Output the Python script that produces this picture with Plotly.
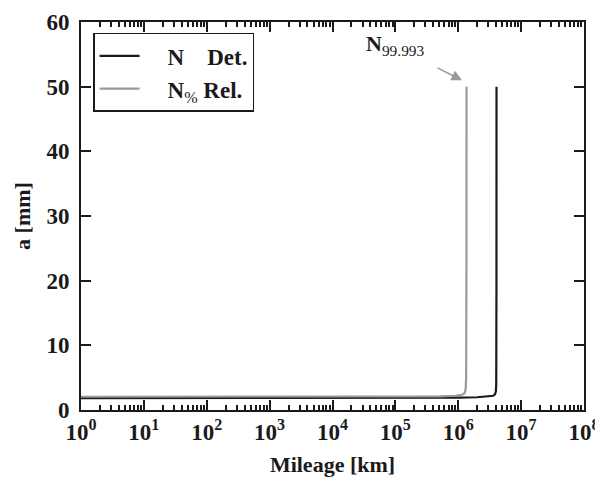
import plotly.graph_objects as go

# Deterministic curve (N Det.)
det_N = [1, 1e2, 1e4, 1e5, 1e6, 2e6, 3e6, 3.6e6, 3.85e6, 3.97e6, 4.02e6, 4.045e6, 4.055e6, 4.06e6]
det_a = [1.85, 1.85, 1.86, 1.87, 1.92, 1.97, 2.05, 2.2, 2.45, 2.9, 4.0, 8.0, 20.0, 50.0]

# Reliability curve (N% Rel.)
rel_N = [1, 1e2, 1e4, 1e5, 5e5, 9e5, 1.15e6, 1.26e6, 1.31e6, 1.335e6, 1.348e6, 1.353e6, 1.355e6]
rel_a = [2.05, 2.05, 2.06, 2.08, 2.12, 2.2, 2.35, 2.6, 3.2, 5.0, 10.0, 25.0, 50.0]

x_tickvals = [1e0, 1e1, 1e2, 1e3, 1e4, 1e5, 1e6, 1e7, 1e8]
x_ticktext = ["10<sup>%d</sup>" % i for i in range(9)]
x_minorvals = [m * 10 ** d for d in range(8) for m in range(2, 10)]
y_tickvals = [0, 10, 20, 30, 40, 50, 60]

font_family = "Liberation Serif"
ink = "#1a1a1a"
x_range = [-0.0001, 8.0001]

fig = go.Figure()
fig.add_trace(go.Scatter(x=det_N, y=det_a, mode="lines",
                         line=dict(color=ink, width=2.2),
                         name="    <b>N    Det.</b>"))
fig.add_trace(go.Scatter(x=rel_N, y=rel_a, mode="lines",
                         line=dict(color="#9a9a9a", width=2.2),
                         name="    <b>N</b><sub>%</sub> <b>Rel.</b>"))
# invisible copy on the overlaid axis that carries the minor ticks
fig.add_trace(go.Scatter(x=det_N, y=det_a, xaxis="x2", yaxis="y",
                         mode="lines", line=dict(width=0, color="rgba(0,0,0,0)"),
                         showlegend=False, hoverinfo="skip"))

fig.add_annotation(x=6.06, y=51, xref="x", yref="y",
                   ax=-26, ay=-13, text="", showarrow=True, arrowhead=2,
                   arrowsize=1.4, arrowwidth=1.5, arrowcolor="#999999")
fig.add_annotation(x=5.0, y=56.4, xref="x", yref="y", showarrow=False,
                   text="<b>N</b><sub>99.993</sub>",
                   font=dict(family=font_family, size=22, color=ink))

axis_common = dict(showline=True, linecolor=ink, linewidth=2,
                   mirror="ticks", ticks="inside", tickcolor=ink,
                   ticklen=10, tickwidth=2, showgrid=False, zeroline=False,
                   automargin=False,
                   tickfont=dict(family=font_family, size=23, color=ink))

xaxis_cfg = dict(type="log", range=x_range, tickmode="array",
                 tickvals=x_tickvals,
                 ticktext=["<b>%s</b>" % t for t in x_ticktext],
                 ticklabeloverflow="allow",
                 title=dict(text="<b>Mileage [km]</b>", standoff=13,
                            font=dict(family=font_family, size=22, color=ink)),
                 **axis_common)
yaxis_cfg = dict(range=[0, 60], tickmode="array", tickvals=y_tickvals,
                 ticktext=["<b>%d</b>" % v for v in y_tickvals],
                 ticklabelstandoff=5,
                 title=dict(text="<b>a [mm]</b>", standoff=10,
                            font=dict(family=font_family, size=22, color=ink)),
                 **axis_common)

fig.update_layout(
    width=595, height=485,
    margin=dict(l=81, r=11, t=22, b=75),
    paper_bgcolor="white", plot_bgcolor="white",
    font=dict(family=font_family, color=ink),
    xaxis=xaxis_cfg,
    yaxis=yaxis_cfg,
    xaxis2=dict(type="log", range=x_range, overlaying="x", anchor="y",
                side="bottom", tickmode="array", tickvals=x_minorvals,
                ticks="inside", ticklen=5, tickwidth=1.5, tickcolor=ink,
                mirror="ticks", showline=False, showticklabels=False,
                showgrid=False, zeroline=False, automargin=False),
    legend=dict(x=0.024, y=0.972, xanchor="left", yanchor="top",
                bordercolor=ink, borderwidth=1.5, bgcolor="white",
                font=dict(family=font_family, size=23, color=ink),
                itemwidth=40, tracegroupgap=0),
    showlegend=True,
)

fig.write_html("out.html", config={"displayModeBar": False},
               post_script="document.body.style.margin='0';document.body.style.overflow='hidden';")
